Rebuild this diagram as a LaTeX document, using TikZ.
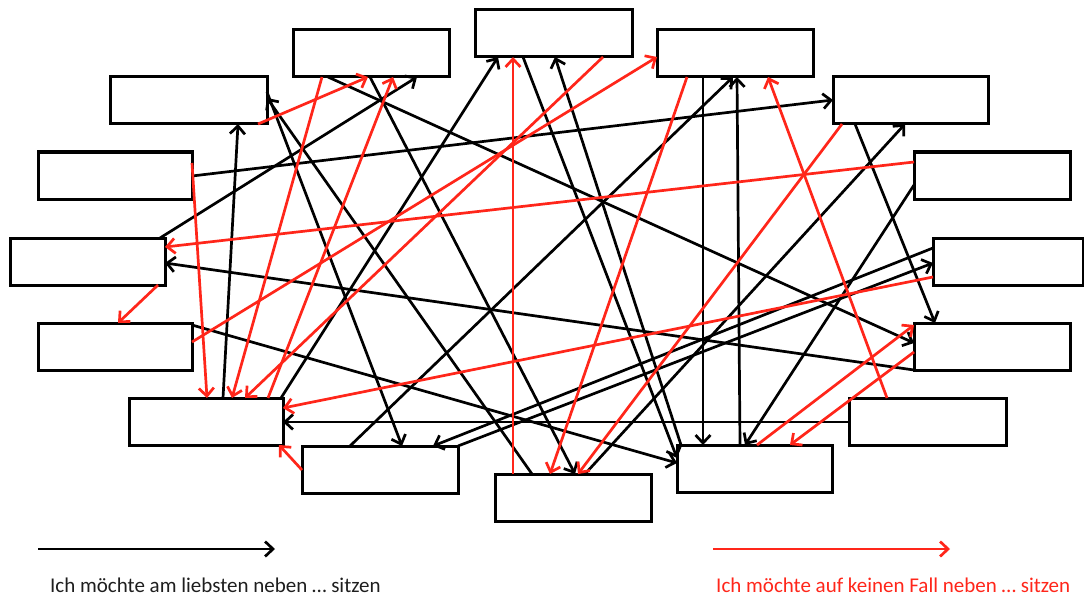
\documentclass[tikz,border=0pt]{standalone}
\usepackage{fontspec}
\setmainfont{Carlito}
\usetikzlibrary{arrows.meta,calc}
\definecolor{myred}{RGB}{255,38,26}
\definecolor{txtdark}{RGB}{30,30,30}
\newcommand\myconn[5]{\draw[#1] ($(#2.north west)+(#3)$) -- ($(#4.north west)+(#5)$);}
\begin{document}
\begin{tikzpicture}[x=1pt,y=-1pt,
  box/.style={draw, line width=3pt, minimum width=#1, minimum height=47pt,
    inner sep=0pt, outer sep=0pt, anchor=north west, fill=white},
  box/.default=156pt,
  conn/.style={line width=2.7pt, -{Straight Barb[length=8pt,width=15pt]}},
  blk/.style={conn, black},
  rd/.style={conn, myred},
  legend/.style={font=\fontsize{21}{24}\selectfont, inner sep=0pt, anchor=west}]
\useasboundingbox (0,0) rectangle (1084,599);
% boxes
\node[box=157pt] (b1) at (475,10) {};
\node[box] (b2) at (293,30) {};
\node[box] (b3) at (657,30) {};
\node[box=157pt] (b4) at (110,77) {};
\node[box=155pt] (b5) at (833,77) {};
\node[box=154pt] (b6) at (38,152) {};
\node[box] (b7) at (914,152) {};
\node[box=155pt] (b8) at (10,238) {};
\node[box=150pt] (b9) at (933,238) {};
\node[box=154pt] (b10) at (38,323) {};
\node[box] (b11) at (914,323) {};
\node[box=154pt] (b12) at (129,398) {};
\node[box=157pt] (b13) at (849,398) {};
\node[box] (b14) at (302,446) {};
\node[box=155pt] (b15) at (677,445) {};
\node[box] (b16) at (495,474) {};
% black connectors
\myconn{blk}{b6}{154,24}{b5}{0,23}
\myconn{blk}{b12}{94,0}{b4}{128,47}
\myconn{blk}{b8}{150,0}{b2}{124,47}
\myconn{blk}{b2}{35,47}{b11}{0,20}
\myconn{blk}{b2}{77,47}{b16}{80,0}
\myconn{blk}{b4}{157,15}{b14}{100,0}
\myconn{blk}{b16}{37,0}{b4}{157,21}
\myconn{blk}{b12}{152,0}{b1}{23,47}
\myconn{blk}{b1}{48,47}{b15}{0,13}
\myconn{blk}{b15}{4,0}{b1}{80,47}
\myconn{blk}{b14}{48,0}{b3}{76,47}
\myconn{blk}{b3}{46,47}{b15}{26,0}
\myconn{blk}{b15}{63,0}{b3}{80,47}
\myconn{blk}{b7}{0,33}{b15}{68,0}
\myconn{blk}{b5}{22,47}{b11}{21,0}
\myconn{blk}{b16}{90,0}{b5}{72,47}
\myconn{blk}{b9}{0,10}{b14}{131,0}
\myconn{blk}{b14}{156,0}{b9}{0,25}
\myconn{blk}{b11}{0,47}{b8}{155,25}
\myconn{blk}{b10}{154,2}{b15}{0,18}
\myconn{blk}{b13}{0,24}{b12}{154,24}
% red connectors
\myconn{rd}{b4}{148,47}{b2}{75,47}
\myconn{rd}{b2}{29,47}{b12}{103,0}
\myconn{rd}{b12}{139,0}{b2}{100,47}
\myconn{rd}{b1}{128,47}{b12}{116,0}
\myconn{rd}{b6}{154,11}{b12}{78,0}
\myconn{rd}{b16}{18,0}{b1}{38,47}
\myconn{rd}{b10}{154,19}{b3}{0,27}
\myconn{rd}{b3}{30,47}{b16}{55,0}
\myconn{rd}{b13}{38,0}{b3}{111,47}
\myconn{rd}{b5}{9,47}{b16}{83,0}
\myconn{rd}{b7}{0,10}{b8}{155,9}
\myconn{rd}{b9}{0,39}{b12}{154,10}
\myconn{rd}{b8}{148,47}{b10}{80,0}
\myconn{rd}{b14}{0,24}{b12}{150,47}
\myconn{rd}{b15}{80,0}{b11}{0,2}
\myconn{rd}{b11}{0,29}{b15}{113,0}
% legend
\coordinate (l1a) at (38,549);
\coordinate (l1b) at (275,549);
\coordinate (l2a) at (713,549);
\coordinate (l2b) at (950,549);
\draw[blk] (l1a) -- (l1b);
\draw[rd] (l2a) -- (l2b);
\node[legend, text=txtdark] (t1) at (50,585) {Ich möchte am liebsten neben … sitzen};
\node[legend, text=myred] (t2) at (716,585) {Ich möchte auf keinen Fall neben … sitzen};
\end{tikzpicture}
\end{document}
